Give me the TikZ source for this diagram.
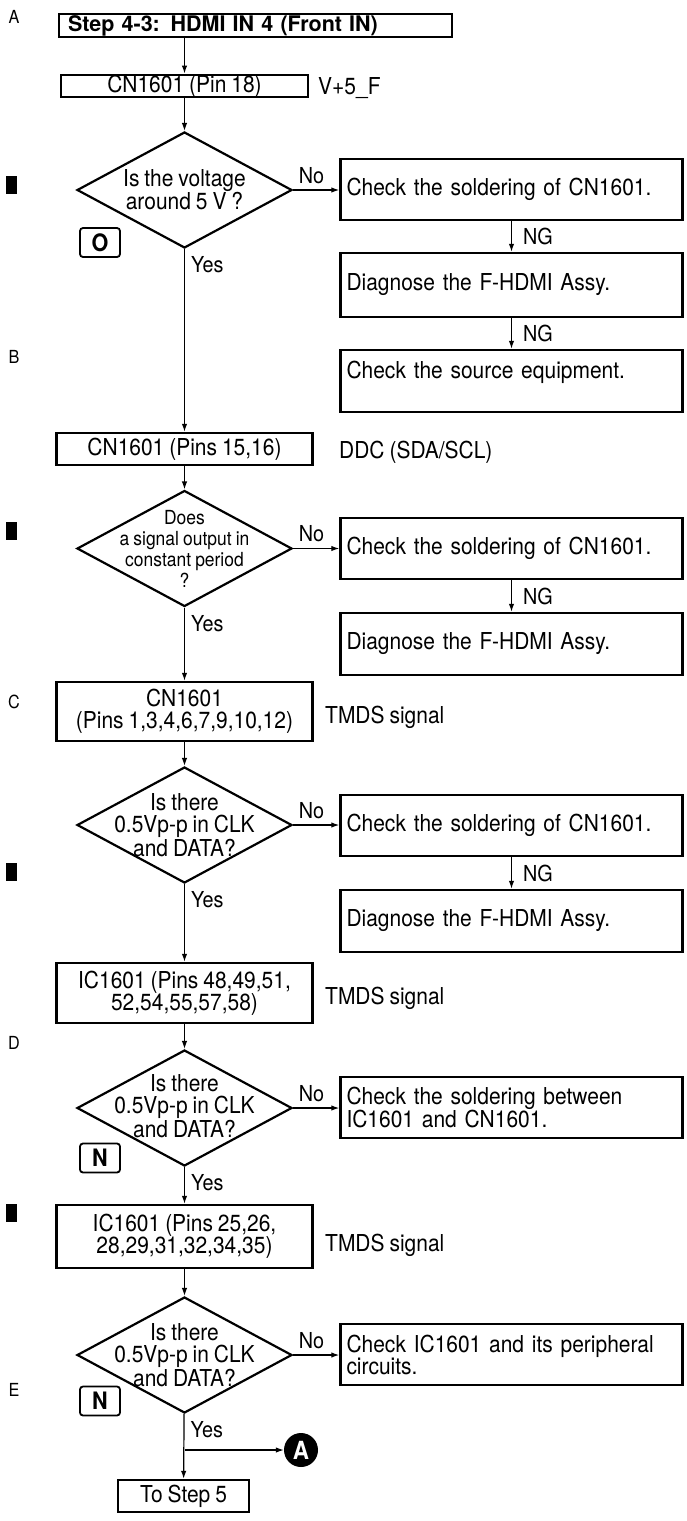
\documentclass[tikz,border=0pt]{standalone}
\usepackage{fontspec}
\setmainfont{TeX Gyre Heros}[FakeStretch=0.9, WordSpace=0.85]
\newfontfamily\titlefam{TeX Gyre Heros}
\usetikzlibrary{shapes.geometric,arrows.meta}
\newcommand\nfont{\fontsize{23.3}{22}\selectfont}
\newcommand\sfont{\fontsize{19.4}{21}\selectfont}
\newcommand\lfont{\fontsize{22}{22}\selectfont}
\newcommand\tfont{\titlefam\fontsize{21.5}{24}\selectfont\bfseries}

\begin{document}
\begin{tikzpicture}[x=1pt, y=-1pt, >={Latex[length=8pt,width=5.5pt]},
	box/.style={draw, line width=2.5pt, inner sep=0pt, minimum width=256pt, align=center, font=\nfont},
	chk/.style={draw, line width=2.5pt, text width=330pt, inner xsep=6pt, inner ysep=0pt, align=left, font=\nfont},
	dec/.style={diamond, draw, line width=2.2pt, minimum width=215pt, minimum height=116pt, inner sep=0pt},
	dtext/.style={align=center, inner sep=0pt, font=\nfont},
	note/.style={anchor=west, inner sep=0pt, font=\nfont},
	lbl/.style={inner sep=2pt, font=\lfont},
	yes/.style={lbl, anchor=north west, xshift=4pt, yshift=-5pt},
	mk/.style={draw, rounded corners=3pt, line width=1.8pt, minimum width=40pt, minimum height=29pt, inner sep=0pt, font=\bfseries\fontsize{24}{24}\selectfont},
	flow/.style={->, line width=1.2pt}]
		\useasboundingbox (0,0) rectangle (686,1521);

		% margin letters and marks
		\foreach \l/\y in {A/17, B/357, C/702, D/1043, E/1390}
			\node[font=\fontsize{18}{18}\selectfont] (m\l) at (14,\y) {\l};
		\foreach \y in {185, 530.5, 872, 1212.5}
			\fill (6,\y-9) rectangle (17,\y+9);

		% main column
		\node[draw, line width=2.5pt, text width=375pt, inner xsep=9pt, inner ysep=0pt, minimum height=23pt, align=left, font=\tfont] (title) at (255.5,25.5) {Step 4-3: HDMI IN 4 (Front IN)};
		\node[box, minimum width=247pt, minimum height=22pt] (cn1) at (184.5,86) {CN1601 (Pin 18)};
		\node[dec, label={[dtext]center:Is the voltage\\around 5 V ?}] (d1) at (184.5,190) {};
		\node[box, minimum height=32pt] (cn2) at (184.5,449) {CN1601 (Pins 15,16)};
		\node[dec, label={[dtext, font=\sfont]center:Does\\a signal output in\\constant period\\?}] (d2) at (184.5,548.5) {};
		\node[box, minimum height=59pt] (cn3) at (184.5,711.5) {CN1601\\(Pins 1,3,4,6,7,9,10,12)};
		\node[dec, label={[dtext]center:Is there\\0.5Vp-p in CLK\\and DATA?}] (d3) at (184.5,825) {};
		\node[box, minimum height=60pt] (ic1) at (184.5,993) {IC1601 (Pins 48,49,51,\\52,54,55,57,58)};
		\node[dec, label={[dtext, yshift=2pt]center:Is there\\0.5Vp-p in CLK\\and DATA?}] (d4) at (184.5,1108) {};
		\node[box, minimum height=63pt] (ic2) at (184.5,1236.5) {IC1601 (Pins 25,26,\\28,29,31,32,34,35)};
		\node[dec, label={[dtext]center:Is there\\0.5Vp-p in CLK\\and DATA?}] (d5) at (184.5,1355) {};
		\node[box, minimum width=131pt, minimum height=32pt] (s5) at (183.5,1496) {To Step 5};
		\node[circle, fill=black, minimum size=34pt, inner sep=0pt, text=white, font=\bfseries\fontsize{25}{25}\selectfont] (cA) at (301,1450) {A};

		% side notes
		\node[note] (vf) at (318,88) {V+5\_F};
		\node[note] (ddc) at (339,452) {DDC (SDA/SCL)};
		\node[note] (tm1) at (325,717) {TMDS signal};
		\node[note] (tm2) at (325,998) {TMDS signal};
		\node[note] (tm3) at (325,1245) {TMDS signal};

		\node[mk] (ok1) at (100,242.5) {O};
		\node[mk] (ng1) at (100,1158) {N};
		\node[mk] (ng2) at (100,1401) {N};

		% checks on the right
		\node[chk, minimum height=61pt] (r11) at (511.5,189.5) {Check the soldering of CN1601.};
		\node[chk, minimum height=64pt] (r12) at (511.5,285) {Diagnose the F-HDMI Assy.};
		\node[chk, minimum height=62pt] (r13) at (511.5,381) {Check the source equipment.\\\mbox{}};
		\node[chk, minimum height=61pt] (r21) at (511.5,548.5) {Check the soldering of CN1601.};
		\node[chk, minimum height=62pt] (r22) at (511.5,644) {Diagnose the F-HDMI Assy.};
		\node[chk, minimum height=61pt] (r31) at (511.5,825.5) {Check the soldering of CN1601.};
		\node[chk, minimum height=62pt] (r32) at (511.5,921) {Diagnose the F-HDMI Assy.};
		\node[chk, minimum height=61pt] (r41) at (511.5,1107.5) {Check the soldering between\\IC1601 and CN1601.};
		\node[chk, minimum height=61pt] (r51) at (511.5,1354.5) {Check IC1601 and its peripheral\\circuits.};

		% connectors
		\draw[flow] (cn1.north |- title.south) -- (cn1.north);
		\draw[flow] (cn1) -- (d1);
		\draw[flow] (d1) -- node[yes, pos=0]{Yes} (cn2);
		\draw[flow] (cn2) -- (d2);
		\draw[flow] (d2) -- node[yes, pos=0]{Yes} (cn3);
		\draw[flow] (cn3) -- (d3);
		\draw[flow] (d3) -- node[yes, pos=0]{Yes} (ic1);
		\draw[flow] (ic1) -- (d4);
		\draw[flow] (d4) -- node[yes, pos=0]{Yes} (ic2);
		\draw[flow] (ic2) -- (d5);
		\draw[flow] (d5) -- node[yes, pos=0]{Yes} (s5);
		\draw[flow] (d5.south |- cA) -- (cA);

		\foreach \d/\r in {d1/r11, d2/r21, d3/r31, d4/r41, d5/r51}
			\draw[flow] (\d.east) -- node[lbl, above=4pt, pos=0.4]{No} (\d.east -| \r.west);
		\foreach \a/\b in {r11/r12, r12/r13, r21/r22, r31/r32}
			\draw[flow] (\a) -- node[lbl, right=9pt]{NG} (\b);
	\end{tikzpicture}
\end{document}
